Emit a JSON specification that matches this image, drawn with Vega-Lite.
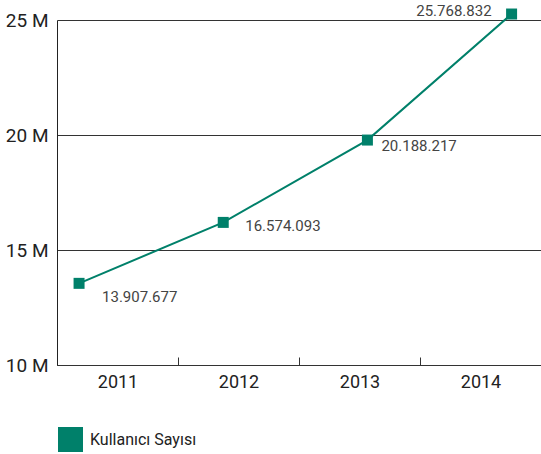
{
  "$schema": "https://vega.github.io/schema/vega-lite/v6.json",
  "width": 484,
  "height": 345,
  "autosize": {"type": "none"},
  "padding": {"left": 57, "top": 20, "right": 0, "bottom": 89},
  "config": {"view": {"stroke": null}, "font": "Roboto"},
  "data": {
    "values": [
      {"year": "2011", "yr": 2011, "value": 13.55, "label": "13.907.677", "series": "Kullanıcı Sayısı"},
      {"year": "2012", "yr": 2012, "value": 16.2, "label": "16.574.093", "series": "Kullanıcı Sayısı"},
      {"year": "2013", "yr": 2013, "value": 19.78, "label": "20.188.217", "series": "Kullanıcı Sayısı"},
      {"year": "2014", "yr": 2014, "value": 25.26, "label": "25.768.832", "series": "Kullanıcı Sayısı"}
    ]
  },
  "layer": [
    {
      "mark": {"type": "point", "opacity": 0},
      "encoding": {
        "x": {
          "field": "year",
          "type": "nominal",
          "scale": {"type": "band", "paddingInner": 0, "paddingOuter": 0},
          "axis": {
            "title": null,
            "labelAngle": 0,
            "labelFontSize": 18,
            "labelColor": "#222222",
            "labelPadding": 16,
            "tickBand": "extent",
            "tickSize": -8,
            "tickColor": "#333333",
            "domainColor": "#333333",
            "grid": false
          }
        },
        "y": {
          "field": "value",
          "type": "quantitative",
          "scale": {"domain": [10, 25], "nice": false, "zero": false},
          "axis": {
            "title": null,
            "values": [10, 15, 20, 25],
            "labelExpr": "datum.value + ' M'",
            "labelFontSize": 19,
            "labelColor": "#222222",
            "labelPadding": 9,
            "ticks": false,
            "domainColor": "#222222",
            "gridColor": "#333333",
            "gridOpacity": 1
          }
        }
      }
    },
    {
      "encoding": {
        "x": {
          "field": "yr",
          "type": "quantitative",
          "scale": {"domain": [2010.847, 2014.204], "nice": false, "zero": false},
          "axis": null
        },
        "y": {"field": "value", "type": "quantitative"}
      },
      "layer": [
        {"mark": {"type": "line", "color": "#00806a", "strokeWidth": 2}},
        {
          "mark": {"type": "point", "shape": "square", "filled": true, "size": 121, "opacity": 1},
          "encoding": {
            "color": {
              "field": "series",
              "type": "nominal",
              "scale": {"range": ["#00806a"]},
              "legend": {
                "title": null,
                "orient": "none",
                "legendX": 1,
                "legendY": 407,
                "padding": 0,
                "symbolType": "square",
                "symbolSize": 625,
                "symbolStrokeWidth": 0,
                "labelFontSize": 16,
                "labelColor": "#222222",
                "labelOffset": 7
              }
            }
          }
        },
        {
          "transform": [{"filter": "datum.yr == 2011"}],
          "mark": {"type": "text", "align": "left", "baseline": "middle", "dx": 23, "dy": 14, "fontSize": 15, "color": "#444444"},
          "encoding": {"text": {"field": "label"}}
        },
        {
          "transform": [{"filter": "datum.yr == 2012"}],
          "mark": {"type": "text", "align": "left", "baseline": "middle", "dx": 22, "dy": 4, "fontSize": 15, "color": "#444444"},
          "encoding": {"text": {"field": "label"}}
        },
        {
          "transform": [{"filter": "datum.yr == 2013"}],
          "mark": {"type": "text", "align": "left", "baseline": "middle", "dx": 14, "dy": 6, "fontSize": 15, "color": "#444444"},
          "encoding": {"text": {"field": "label"}}
        },
        {
          "transform": [{"filter": "datum.yr == 2014"}],
          "mark": {"type": "text", "align": "right", "baseline": "middle", "dx": -20, "dy": -3, "fontSize": 15, "color": "#444444"},
          "encoding": {"text": {"field": "label"}}
        }
      ]
    }
  ],
  "resolve": {"scale": {"x": "independent"}}
}
